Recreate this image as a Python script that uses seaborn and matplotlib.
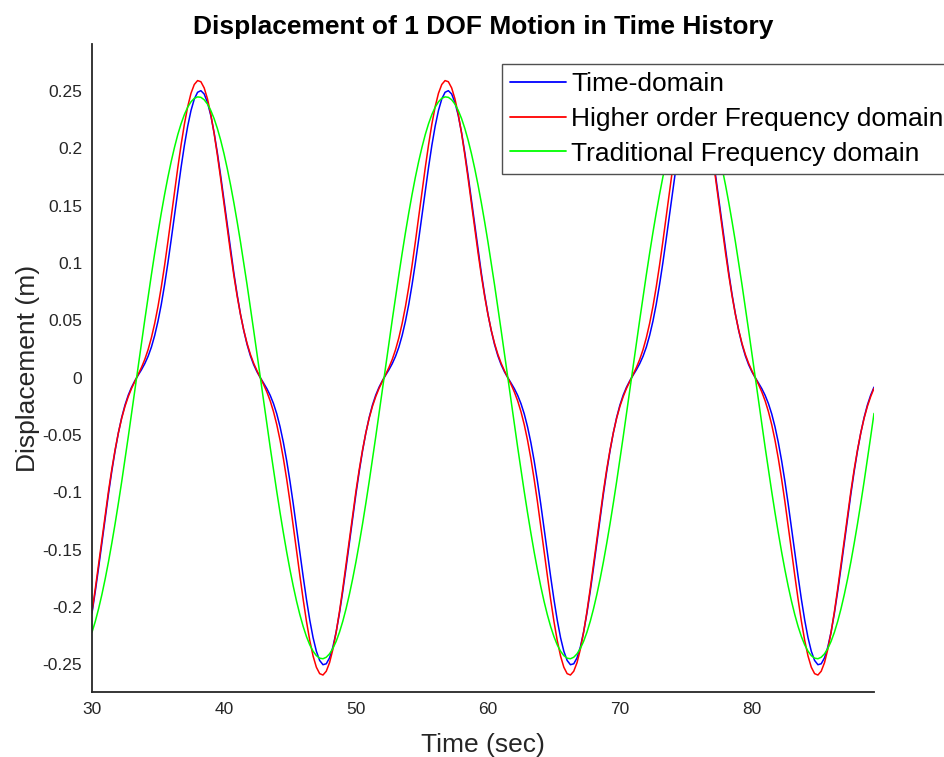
import numpy as np
import pandas as pd
import matplotlib
matplotlib.use("Agg")
import matplotlib.pyplot as plt
import seaborn as sns
from matplotlib.lines import Line2D

t_start = 30.0
t_step = 0.25

disp_time_domain = [
    -0.2052, -0.1862, -0.1656, -0.1440, -0.1223, -0.1012, -0.0815, -0.0637, -0.0480, -0.0347,
    -0.0238, -0.0151, -0.0082, -0.0026, 0.0023, 0.0070, 0.0123, 0.0187, 0.0267, 0.0369,
    0.0493, 0.0640, 0.0811, 0.1000, 0.1204, 0.1416, 0.1629, 0.1835, 0.2026, 0.2193,
    0.2330, 0.2430, 0.2489, 0.2503, 0.2474, 0.2400, 0.2287, 0.2138, 0.1960, 0.1761,
    0.1548, 0.1331, 0.1116, 0.0912, 0.0723, 0.0555, 0.0411, 0.0290, 0.0192, 0.0114,
    0.0052, 0.0001, -0.0046, -0.0095, -0.0153, -0.0225, -0.0315, -0.0428, -0.0564, -0.0723,
    -0.0903, -0.1101, -0.1309, -0.1523, -0.1734, -0.1933, -0.2113, -0.2266, -0.2385, -0.2465,
    -0.2502, -0.2494, -0.2442, -0.2348, -0.2216,
    -0.2052, -0.1862, -0.1656, -0.1440, -0.1223, -0.1012, -0.0815, -0.0637, -0.0480, -0.0347,
    -0.0238, -0.0151, -0.0082, -0.0026, 0.0023, 0.0070, 0.0123, 0.0187, 0.0267, 0.0369,
    0.0493, 0.0640, 0.0811, 0.1000, 0.1204, 0.1416, 0.1629, 0.1835, 0.2026, 0.2193,
    0.2330, 0.2430, 0.2489, 0.2503, 0.2474, 0.2400, 0.2287, 0.2138, 0.1960, 0.1761,
    0.1548, 0.1331, 0.1116, 0.0912, 0.0723, 0.0555, 0.0411, 0.0290, 0.0192, 0.0114,
    0.0052, 0.0001, -0.0046, -0.0095, -0.0153, -0.0225, -0.0315, -0.0428, -0.0564, -0.0723,
    -0.0903, -0.1101, -0.1309, -0.1523, -0.1734, -0.1933, -0.2113, -0.2266, -0.2385, -0.2465,
    -0.2502, -0.2494, -0.2442, -0.2348, -0.2216,
    -0.2052, -0.1862, -0.1656, -0.1440, -0.1223, -0.1012, -0.0815, -0.0637, -0.0480, -0.0347,
    -0.0238, -0.0151, -0.0082, -0.0026, 0.0023, 0.0070, 0.0123, 0.0187, 0.0267, 0.0369,
    0.0493, 0.0640, 0.0811, 0.1000, 0.1204, 0.1416, 0.1629, 0.1835, 0.2026, 0.2193,
    0.2330, 0.2430, 0.2489, 0.2503, 0.2474, 0.2400, 0.2287, 0.2138, 0.1960, 0.1761,
    0.1548, 0.1331, 0.1116, 0.0912, 0.0723, 0.0555, 0.0411, 0.0290, 0.0192, 0.0114,
    0.0052, 0.0001, -0.0046, -0.0095, -0.0153, -0.0225, -0.0315, -0.0428, -0.0564, -0.0723,
    -0.0903, -0.1101, -0.1309, -0.1523, -0.1734, -0.1933, -0.2113, -0.2266, -0.2385, -0.2465,
    -0.2502, -0.2494, -0.2442, -0.2348, -0.2216,
    -0.2052, -0.1862, -0.1656, -0.1440, -0.1223, -0.1012, -0.0815, -0.0637, -0.0480, -0.0347,
    -0.0238, -0.0151, -0.0082,
]

disp_higher_order = [
    -0.2039, -0.1839, -0.1626, -0.1409, -0.1194, -0.0988, -0.0798, -0.0628, -0.0479, -0.0353,
    -0.0249, -0.0164, -0.0092, -0.0031, 0.0028, 0.0090, 0.0160, 0.0245, 0.0349, 0.0474,
    0.0621, 0.0791, 0.0980, 0.1185, 0.1400, 0.1618, 0.1831, 0.2031, 0.2211, 0.2363,
    0.2480, 0.2557, 0.2591, 0.2581, 0.2527, 0.2431, 0.2297, 0.2132, 0.1941, 0.1734,
    0.1518, 0.1300, 0.1089, 0.0891, 0.0710, 0.0551, 0.0414, 0.0299, 0.0204, 0.0126,
    0.0061, 0.0001, -0.0058, -0.0124, -0.0201, -0.0295, -0.0409, -0.0545, -0.0704, -0.0884,
    -0.1081, -0.1292, -0.1509, -0.1725, -0.1933, -0.2124, -0.2291, -0.2426, -0.2524, -0.2580,
    -0.2592, -0.2559, -0.2484, -0.2368, -0.2218,
    -0.2039, -0.1839, -0.1626, -0.1409, -0.1194, -0.0988, -0.0798, -0.0628, -0.0479, -0.0353,
    -0.0249, -0.0164, -0.0092, -0.0031, 0.0028, 0.0090, 0.0160, 0.0245, 0.0349, 0.0474,
    0.0621, 0.0791, 0.0980, 0.1185, 0.1400, 0.1618, 0.1831, 0.2031, 0.2211, 0.2363,
    0.2480, 0.2557, 0.2591, 0.2581, 0.2527, 0.2431, 0.2297, 0.2132, 0.1941, 0.1734,
    0.1518, 0.1300, 0.1089, 0.0891, 0.0710, 0.0551, 0.0414, 0.0299, 0.0204, 0.0126,
    0.0061, 0.0001, -0.0058, -0.0124, -0.0201, -0.0295, -0.0409, -0.0545, -0.0704, -0.0884,
    -0.1081, -0.1292, -0.1509, -0.1725, -0.1933, -0.2124, -0.2291, -0.2426, -0.2524, -0.2580,
    -0.2592, -0.2559, -0.2484, -0.2368, -0.2218,
    -0.2039, -0.1839, -0.1626, -0.1409, -0.1194, -0.0988, -0.0798, -0.0628, -0.0479, -0.0353,
    -0.0249, -0.0164, -0.0092, -0.0031, 0.0028, 0.0090, 0.0160, 0.0245, 0.0349, 0.0474,
    0.0621, 0.0791, 0.0980, 0.1185, 0.1400, 0.1618, 0.1831, 0.2031, 0.2211, 0.2363,
    0.2480, 0.2557, 0.2591, 0.2581, 0.2527, 0.2431, 0.2297, 0.2132, 0.1941, 0.1734,
    0.1518, 0.1300, 0.1089, 0.0891, 0.0710, 0.0551, 0.0414, 0.0299, 0.0204, 0.0126,
    0.0061, 0.0001, -0.0058, -0.0124, -0.0201, -0.0295, -0.0409, -0.0545, -0.0704, -0.0884,
    -0.1081, -0.1292, -0.1509, -0.1725, -0.1933, -0.2124, -0.2291, -0.2426, -0.2524, -0.2580,
    -0.2592, -0.2559, -0.2484, -0.2368, -0.2218,
    -0.2039, -0.1839, -0.1626, -0.1409, -0.1194, -0.0988, -0.0798, -0.0628, -0.0479, -0.0353,
    -0.0249, -0.0164, -0.0092,
]

disp_traditional = [
    -0.2219, -0.2124, -0.2014, -0.1890, -0.1753, -0.1604, -0.1443, -0.1273, -0.1093, -0.0906,
    -0.0712, -0.0513, -0.0311, -0.0107, 0.0098, 0.0303, 0.0505, 0.0704, 0.0898, 0.1086,
    0.1266, 0.1437, 0.1598, 0.1748, 0.1885, 0.2009, 0.2120, 0.2215, 0.2295, 0.2359,
    0.2406, 0.2436, 0.2449, 0.2445, 0.2424, 0.2386, 0.2331, 0.2260, 0.2173, 0.2071,
    0.1954, 0.1823, 0.1680, 0.1525, 0.1359, 0.1184, 0.1000, 0.0810, 0.0613, 0.0413,
    0.0209, 0.0004, -0.0201, -0.0405, -0.0605, -0.0802, -0.0993, -0.1177, -0.1352, -0.1519,
    -0.1674, -0.1818, -0.1949, -0.2066, -0.2169, -0.2257, -0.2329, -0.2384, -0.2423, -0.2445,
    -0.2450, -0.2437, -0.2407, -0.2361, -0.2298,
    -0.2219, -0.2124, -0.2014, -0.1890, -0.1753, -0.1604, -0.1443, -0.1273, -0.1093, -0.0906,
    -0.0712, -0.0513, -0.0311, -0.0107, 0.0098, 0.0303, 0.0505, 0.0704, 0.0898, 0.1086,
    0.1266, 0.1437, 0.1598, 0.1748, 0.1885, 0.2009, 0.2120, 0.2215, 0.2295, 0.2359,
    0.2406, 0.2436, 0.2449, 0.2445, 0.2424, 0.2386, 0.2331, 0.2260, 0.2173, 0.2071,
    0.1954, 0.1823, 0.1680, 0.1525, 0.1359, 0.1184, 0.1000, 0.0810, 0.0613, 0.0413,
    0.0209, 0.0004, -0.0201, -0.0405, -0.0605, -0.0802, -0.0993, -0.1177, -0.1352, -0.1519,
    -0.1674, -0.1818, -0.1949, -0.2066, -0.2169, -0.2257, -0.2329, -0.2384, -0.2423, -0.2445,
    -0.2450, -0.2437, -0.2407, -0.2361, -0.2298,
    -0.2219, -0.2124, -0.2014, -0.1890, -0.1753, -0.1604, -0.1443, -0.1273, -0.1093, -0.0906,
    -0.0712, -0.0513, -0.0311, -0.0107, 0.0098, 0.0303, 0.0505, 0.0704, 0.0898, 0.1086,
    0.1266, 0.1437, 0.1598, 0.1748, 0.1885, 0.2009, 0.2120, 0.2215, 0.2295, 0.2359,
    0.2406, 0.2436, 0.2449, 0.2445, 0.2424, 0.2386, 0.2331, 0.2260, 0.2173, 0.2071,
    0.1954, 0.1823, 0.1680, 0.1525, 0.1359, 0.1184, 0.1000, 0.0810, 0.0613, 0.0413,
    0.0209, 0.0004, -0.0201, -0.0405, -0.0605, -0.0802, -0.0993, -0.1177, -0.1352, -0.1519,
    -0.1674, -0.1818, -0.1949, -0.2066, -0.2169, -0.2257, -0.2329, -0.2384, -0.2423, -0.2445,
    -0.2450, -0.2437, -0.2407, -0.2361, -0.2298,
    -0.2219, -0.2124, -0.2014, -0.1890, -0.1753, -0.1604, -0.1443, -0.1273, -0.1093, -0.0906,
    -0.0712, -0.0513, -0.0311,
]

series_names = ["Time-domain", "Higher order Frequency domain", "Traditional Frequency domain"]
series_colors = ["#0000ff", "#ff0000", "#00ff00"]
x_ticks = [30, 40, 50, 60, 70, 80]
y_ticks = [-0.25, -0.2, -0.15, -0.1, -0.05, 0, 0.05, 0.1, 0.15, 0.2, 0.25]
y_tick_labels = ["-0.25", "-0.2", "-0.15", "-0.1", "-0.05", "0", "0.05", "0.1", "0.15", "0.2", "0.25"]

# ---- build long-form table ----
time_sec = t_start + t_step * np.arange(len(disp_time_domain))
frames = []
for name, vals in zip(series_names, [disp_time_domain, disp_higher_order, disp_traditional]):
    frames.append(pd.DataFrame({"Time": time_sec, "Displacement": vals, "Method": name}))
df = pd.concat(frames, ignore_index=True)

sns.set_theme(style="white")
plt.rcParams["font.family"] = ["Liberation Sans", "DejaVu Sans"]

fig = plt.figure(figsize=(9.45, 7.57), dpi=100)
ax = fig.add_axes([92 / 945, 1 - 692 / 757, (874 - 92) / 945, (692 - 44) / 757])
sns.lineplot(data=df, x="Time", y="Displacement", hue="Method", hue_order=series_names,
             palette=dict(zip(series_names, series_colors)), ax=ax, linewidth=1.1,
             legend=False, sort=False, estimator=None)

ax.set_xlim(time_sec[0], time_sec[-1])
ax.set_ylim(-0.274, 0.291)
ax.set_xticks(x_ticks)
ax.set_xticklabels([str(v) for v in x_ticks])
ax.set_yticks(y_ticks)
ax.set_yticklabels(y_tick_labels)
for s in ["top", "right"]:
    ax.spines[s].set_visible(False)
for s in ["left", "bottom"]:
    ax.spines[s].set_color("#262626")
    ax.spines[s].set_linewidth(1.3)
ax.tick_params(direction="in", length=5.5, width=1.2, colors="#262626", labelsize=12.5, pad=7)
ax.set_xlabel("Time (sec)", fontsize=19, color="#262626")
ax.set_ylabel("Displacement (m)", fontsize=19, color="#262626")
ax.xaxis.set_label_coords(0.5, -0.063)
ax.yaxis.set_label_coords(-0.066, 0.5)
ax.set_title("Displacement of 1 DOF Motion in Time History", fontsize=19,
             fontweight="bold", pad=7, color="black")

handles = [Line2D([], [], color=c, lw=1.3) for c in series_colors]
leg = ax.legend(handles, series_names, loc="upper left", bbox_to_anchor=(502 / 945, 1 - 64 / 757),
                bbox_transform=fig.transFigure, fontsize=19, frameon=True, fancybox=False,
                borderpad=0.32, handlelength=2.1, handletextpad=0.19, labelspacing=0.4,
                borderaxespad=0)
leg.get_frame().set_edgecolor("#505050")
leg.get_frame().set_linewidth(1.0)
leg.get_frame().set_alpha(1)
for tx in leg.get_texts():
    tx.set_color("black")

fig.savefig("out.png", dpi=100)
